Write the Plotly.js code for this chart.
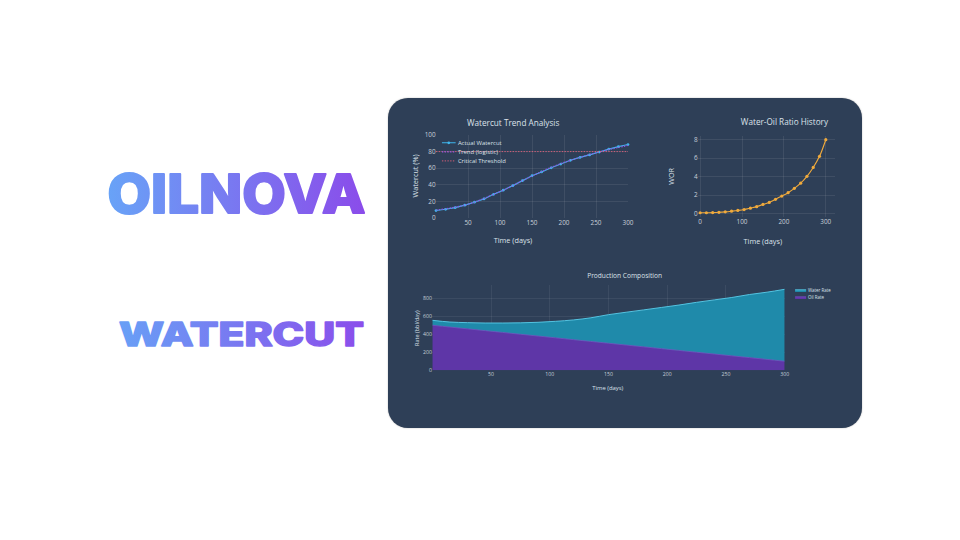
<!DOCTYPE html>
<html>
<head>
<meta charset="utf-8">
<script src="https://cdn.plot.ly/plotly-3.0.1.min.js"></script>
<style>
  html, body { margin:0; padding:0; }
  body { width:960px; height:540px; background:#ffffff; overflow:hidden; position:relative; }
  #brand { position:absolute; left:0; top:0; }
  #panel { position:absolute; left:388px; top:98px; width:474px; height:330px; border-radius:20px;
           background:#2e3f57; overflow:hidden; box-shadow:0 0 1.5px rgba(0,0,0,0.35); }
  #topfig { position:absolute; left:0; top:0; width:1040px; height:362px; transform:scale(0.4558); transform-origin:0 0; }
  #botfig { position:absolute; left:0; top:165px; width:1288px; height:448px; transform:scale(0.368); transform-origin:0 0; }
</style>
</head>
<body>
<svg id="brand" width="960" height="540" xmlns="http://www.w3.org/2000/svg">
  <defs>
    <linearGradient id="g1" gradientUnits="userSpaceOnUse" x1="107" y1="0" x2="367" y2="0">
      <stop offset="0" stop-color="#68a3f7"/><stop offset="1" stop-color="#8b4bea"/>
    </linearGradient>
    <linearGradient id="g2" gradientUnits="userSpaceOnUse" x1="118" y1="0" x2="365" y2="0">
      <stop offset="0" stop-color="#68a0f6"/><stop offset="1" stop-color="#8b4deb"/>
    </linearGradient>
  </defs>
  <text x="107.5" y="212.8" font-family="Inter, 'DejaVu Sans', sans-serif" font-weight="800" font-size="54"
        textLength="258" lengthAdjust="spacingAndGlyphs" fill="url(#g1)" stroke="url(#g1)" stroke-width="2"
        stroke-linejoin="round">OILNOVA</text>
  <text x="119" y="346.2" font-family="Inter, 'DejaVu Sans', sans-serif" font-weight="800" font-size="32"
        textLength="245" lengthAdjust="spacingAndGlyphs" fill="url(#g2)" stroke="url(#g2)" stroke-width="1.4"
        stroke-linejoin="round">WATERCUT</text>
</svg>
<div id="panel">
  <div id="topfig"></div>
  <div id="botfig"></div>
</div>
<script>
// ---- data ----
const days = [0,15,30,45,60,75,90,105,120,135,150,165,180,195,210,225,240,255,270,285,300];
const actualWatercut = [9,10.5,12.5,15.5,19,23,28.5,33.5,39,45,51,55.5,60.5,65,69.5,73,76,79.5,83,86,88.5];
const trendLogistic  = [9.5,11,13,15.5,19,23.5,28.5,33.5,39,45,50.5,56,61,65.5,69.5,73,76.5,79.5,82.5,85,87.5];
const thresholdDays = [0,300];
const criticalThreshold = [80,80];
const worValues = [0.1,0.1,0.12,0.15,0.2,0.27,0.35,0.45,0.6,0.76,1.0,1.22,1.55,1.9,2.27,2.74,3.3,4.04,5.0,6.2,8.0];
const oilRate   = [500,480,460,440,420,400,380,360,340,320,300,280,260,240,220,200,180,160,140,120,100];
const waterRate = [55,56,69,85,105,127,153,184,219,263,318,365,411,458,505,555,602,649,702,748,800];

const wcTicks = [50,100,150,200,250,300];
const wcYTicks = [0,20,40,60,80,100];
const worXTicks = [0,100,200,300];
const worYTicks = [0,2,4,6,8];
const prodXTicks = [50,100,150,200,250,300];
const prodYTicks = [0,200,400,600,800];

const FONT = 'Open Sans, verdana, arial, sans-serif';
const TXT = '#dce2ea';
const TICK = '#c8d0da';
const GRID = 'rgba(255,255,255,0.12)';

function ax(extra, tsize){
  return Object.assign({showgrid:true, gridcolor:GRID, gridwidth:1.5, zeroline:false, showline:false,
    ticks:'', tickfont:{size:tsize||14, color:TICK, family:FONT}, automargin:false, fixedrange:true}, extra);
}

// ---------- top figure: watercut + WOR ----------
const topTraces = [
  {x:days, y:actualWatercut, name:'Actual Watercut', type:'scatter', mode:'lines+markers',
   line:{color:'#3fb6ec', width:2.5}, marker:{color:'#3fb6ec', size:6}, cliponaxis:false,
   xaxis:'x', yaxis:'y', legend:'legend'},
  {x:days, y:trendLogistic, name:'Trend (logistic)', type:'scatter', mode:'lines',
   line:{color:'#8e55e0', width:3, dash:'dot', shape:'spline'}, xaxis:'x', yaxis:'y', legend:'legend'},
  {x:thresholdDays, y:criticalThreshold, name:'Critical Threshold', type:'scatter', mode:'lines',
   line:{color:'#e0607a', width:2, dash:'dot'}, xaxis:'x', yaxis:'y', legend:'legend'},
  {x:days, y:worValues, name:'WOR', type:'scatter', mode:'lines+markers', showlegend:false,
   line:{color:'#f0aa3c', width:2.5, shape:'spline'}, marker:{color:'#f0aa3c', size:7}, cliponaxis:false,
   xaxis:'x2', yaxis:'y2'}
];
const topLayout = {
  width:1040, height:362, margin:{l:0,r:0,t:0,b:0},
  paper_bgcolor:'rgba(0,0,0,0)', plot_bgcolor:'rgba(0,0,0,0)',
  font:{family:FONT, color:TXT, size:13},
  showlegend:true,
  legend:{x:0.109, y:0.77, xanchor:'left', yanchor:'top', bgcolor:'rgba(0,0,0,0)',
          font:{size:13, color:TXT, family:FONT}},
  xaxis: ax({domain:[0.1013,0.5063], range:[0,300], tickvals:wcTicks, anchor:'y'}),
  yaxis: ax({domain:[0.2727,0.7758], range:[0,100], tickvals:wcYTicks, anchor:'x'}),
  xaxis2: ax({domain:[0.654,0.943], range:[-5,322], tickvals:worXTicks, anchor:'y2'}),
  yaxis2: ax({domain:[0.2764,0.7697], range:[-0.4,8.4], tickvals:worYTicks, anchor:'x2'}),
  annotations:[
    {text:'Watercut Trend Analysis', x:0.2637, y:0.8485, xref:'paper', yref:'paper', showarrow:false,
     xanchor:'center', yanchor:'middle', font:{size:18, color:TXT, family:FONT}},
    {text:'Water-Oil Ratio History', x:0.8369, y:0.8545, xref:'paper', yref:'paper', showarrow:false,
     xanchor:'center', yanchor:'middle', font:{size:18, color:TXT, family:FONT}},
    {text:'Time (days)', x:0.2637, y:0.1394, xref:'paper', yref:'paper', showarrow:false,
     xanchor:'center', yanchor:'middle', font:{size:16, color:TXT, family:FONT}},
    {text:'Time (days)', x:0.7911, y:0.1315, xref:'paper', yref:'paper', showarrow:false,
     xanchor:'center', yanchor:'middle', font:{size:16, color:TXT, family:FONT}},
    {text:'Watercut (%)', x:0.057, y:0.5273, xref:'paper', yref:'paper', showarrow:false, textangle:-90,
     xanchor:'center', yanchor:'middle', font:{size:16, color:TXT, family:FONT}},
    {text:'WOR', x:0.5977, y:0.5255, xref:'paper', yref:'paper', showarrow:false, textangle:-90,
     xanchor:'center', yanchor:'middle', font:{size:16, color:TXT, family:FONT}}
  ]
};

// ---------- bottom figure: production composition ----------
const botTraces = [
  {x:days, y:oilRate, name:'Oil Rate', type:'scatter', mode:'lines', stackgroup:'prod',
   line:{color:'#7b52c8', width:2, shape:'spline'}, fillcolor:'#5e36a7'},
  {x:days, y:waterRate, name:'Water Rate', type:'scatter', mode:'lines', stackgroup:'prod',
   line:{color:'#58cbe8', width:2.5, shape:'spline'}, fillcolor:'#1f8aaa'}
];
const botLayout = {
  width:1288, height:448, margin:{l:0,r:0,t:0,b:0},
  paper_bgcolor:'rgba(0,0,0,0)', plot_bgcolor:'rgba(0,0,0,0)',
  font:{family:FONT, color:TXT, size:13},
  showlegend:true,
  legend:{x:0.855, y:0.865, xanchor:'left', yanchor:'top', traceorder:'reversed', bgcolor:'rgba(0,0,0,0)',
          font:{size:12, color:TXT, family:FONT}},
  xaxis: ax({domain:[0.0935,0.8369], range:[0,300], tickvals:prodXTicks}, 14),
  yaxis: ax({domain:[0.3497,0.8667], range:[0,948], tickvals:prodYTicks}, 14),
  annotations:[
    {text:'Production Composition', x:0.4994, y:0.927, xref:'paper', yref:'paper', showarrow:false,
     xanchor:'center', yanchor:'middle', font:{size:18, color:TXT, family:FONT}},
    {text:'Time (days)', x:0.4641, y:0.2406, xref:'paper', yref:'paper', showarrow:false,
     xanchor:'center', yanchor:'middle', font:{size:16, color:TXT, family:FONT}},
    {text:'Rate (bbl/day)', x:0.0597, y:0.606, xref:'paper', yref:'paper', showarrow:false, textangle:-90,
     xanchor:'center', yanchor:'middle', font:{size:15, color:TXT, family:FONT}}
  ]
};

const cfg = {staticPlot:true, displayModeBar:false, responsive:false};
Plotly.newPlot('topfig', topTraces, topLayout, cfg);
Plotly.newPlot('botfig', botTraces, botLayout, cfg);
</script>
</body>
</html>
